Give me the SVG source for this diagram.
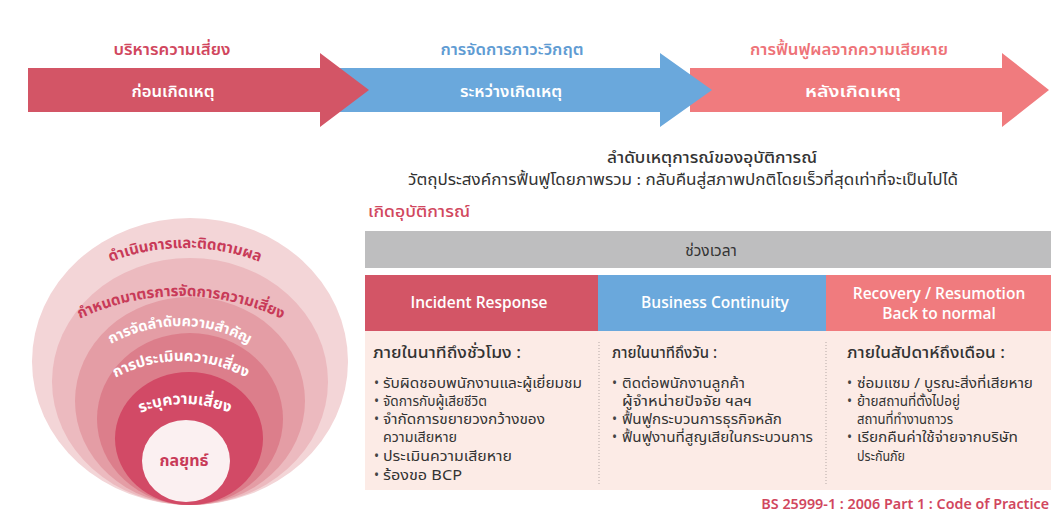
<svg xmlns="http://www.w3.org/2000/svg" width="1051" height="516" viewBox="0 0 1051 516">
<style>
text{font-family:"Noto Sans Thai","Noto Sans","Open Sans","DejaVu Sans",sans-serif;}
.ttl{font-size:15.5px;font-weight:600;text-anchor:middle;}
.inarrow{font-size:15.5px;font-weight:600;fill:#fff;text-anchor:middle;}
.hd{font-size:15.5px;font-weight:600;fill:#fff;text-anchor:middle;font-family:"Open Sans","Liberation Sans",sans-serif;}
.colh{font-size:16.5px;fill:#333;font-weight:500;}
.li{font-size:13.5px;fill:#333;}
.bu{font-size:13.5px;fill:#444;}
.arc{font-weight:700;}
</style>
<rect width="1051" height="516" fill="#fff"/>
<g id="phase-arrows">
  <g id="arrow-after">
    <polygon points="690,68 1002,68 1002,53 1049,90 1002,127 1002,112 690,112" fill="#F07B7E"/>
    <text class="ttl" x="849" y="55" fill="#EE7378" textLength="198" lengthAdjust="spacingAndGlyphs">การฟื้นฟูผลจากความเสียหาย</text>
    <text class="inarrow" x="853" y="97" textLength="96" lengthAdjust="spacingAndGlyphs">หลังเกิดเหตุ</text>
  </g>
  <g id="arrow-during">
    <polygon points="340,68 660,68 660,53 712,90 660,127 660,112 340,112" fill="#6AA8DC"/>
    <text class="ttl" x="512" y="55" fill="#5F9CD3" textLength="143" lengthAdjust="spacingAndGlyphs">การจัดการภาวะวิกฤต</text>
    <text class="inarrow" x="511" y="97" textLength="102" lengthAdjust="spacingAndGlyphs">ระหว่างเกิดเหตุ</text>
  </g>
  <g id="arrow-before">
    <polygon points="28,68 320,68 320,53 369,90 320,127 320,112 28,112" fill="#D35566"/>
    <text class="ttl" x="172" y="55" fill="#D1475E" textLength="117" lengthAdjust="spacingAndGlyphs">บริหารความเสี่ยง</text>
    <text class="inarrow" x="173" y="97" textLength="83" lengthAdjust="spacingAndGlyphs">ก่อนเกิดเหตุ</text>
  </g>
</g>
<g id="caption">
  <text x="712" y="163" font-size="16" font-weight="500" fill="#333" text-anchor="middle" textLength="210" lengthAdjust="spacingAndGlyphs">ลำดับเหตุการณ์ของอุบัติการณ์</text>
  <text x="683" y="185" font-size="15" fill="#333" text-anchor="middle" textLength="550" lengthAdjust="spacingAndGlyphs">วัตถุประสงค์การฟื้นฟูโดยภาพรวม : กลับคืนสู่สภาพปกติโดยเร็วที่สุดเท่าที่จะเป็นไปได้</text>
</g>
<g id="risk-circles">
  <defs>
    <path id="a1" d="M -21,454 A 206 206 0 0 1 391,454"/>
    <path id="a2" d="M -53,530 A 234 234 0 0 1 415,530"/>
    <path id="a3" d="M 40,466 A 140 140 0 0 1 320,466"/>
    <path id="a4" d="M 45,497 A 136 136 0 0 1 317,497"/>
    <path id="a5" d="M 70,519 A 115 115 0 0 1 300,519"/>
  </defs>
  <ellipse cx="190" cy="361.5" rx="158" ry="143.5" fill="#F3D5D7"/>
  <ellipse cx="190" cy="381.5" rx="138" ry="123.5" fill="#ECBABF"/>
  <ellipse cx="190" cy="401" rx="115" ry="104" fill="#E49DA5"/>
  <ellipse cx="190" cy="419" rx="93" ry="86" fill="#DC7E8B"/>
  <ellipse cx="189" cy="438.5" rx="74" ry="66.5" fill="#D24A66"/>
  <ellipse cx="186" cy="461" rx="44" ry="41" fill="#FBF0F1"/>
  <text class="arc" font-size="15" fill="#C83A58"><textPath href="#a1" startOffset="50%" text-anchor="middle">ดำเนินการและติดตามผล</textPath></text>
  <text class="arc" font-size="15" fill="#C83A58"><textPath href="#a2" startOffset="50%" text-anchor="middle">กำหนดมาตรการจัดการความเสี่ยง</textPath></text>
  <text class="arc" font-size="14.5" fill="#fff"><textPath href="#a3" startOffset="50%" text-anchor="middle">การจัดลำดับความสำคัญ</textPath></text>
  <text class="arc" font-size="15" fill="#fff"><textPath href="#a4" startOffset="50%" text-anchor="middle">การประเมินความเสี่ยง</textPath></text>
  <text class="arc" font-size="15.5" fill="#fff"><textPath href="#a5" startOffset="50%" text-anchor="middle">ระบุความเสี่ยง</textPath></text>
  <text x="184" y="466" font-size="16" font-weight="700" fill="#C83A58" text-anchor="middle">กลยุทธ์</text>
</g>
<g id="incident-table">
  <text x="368" y="217" font-size="16" font-weight="500" fill="#D1475E" textLength="102" lengthAdjust="spacingAndGlyphs">เกิดอุบัติการณ์</text>
  <rect x="365" y="231" width="686" height="37" fill="#BEBEBF"/>
  <text x="711" y="256" font-size="15.5" fill="#333" text-anchor="middle">ช่วงเวลา</text>
  <rect x="365" y="275" width="233" height="56" fill="#D35566"/>
  <rect x="598" y="275" width="228" height="56" fill="#6AA8DC"/>
  <rect x="826" y="275" width="225" height="56" fill="#F07B7E"/>
  <text class="hd" x="479" y="308">Incident Response</text>
  <text class="hd" x="715" y="308">Business Continuity</text>
  <text class="hd" x="939" y="299">Recovery / Resumotion</text>
  <text class="hd" x="939" y="319">Back to normal</text>
  <rect x="365" y="331" width="686" height="159" fill="#FCEBE6"/>
  <line x1="599" y1="342" x2="599" y2="484" stroke="#B5A9A6" stroke-width="1" stroke-dasharray="1 2"/>
  <line x1="826" y1="342" x2="826" y2="484" stroke="#B5A9A6" stroke-width="1" stroke-dasharray="1 2"/>
  <g id="col1">
    <text class="colh" x="373" y="358" textLength="148" lengthAdjust="spacingAndGlyphs">ภายในนาทีถึงชั่วโมง :</text>
    <text class="bu" x="374" y="388">•</text>
    <text class="li" x="383" y="388" textLength="199" lengthAdjust="spacingAndGlyphs">รับผิดชอบพนักงานและผู้เยี่ยมชม</text>
    <text class="bu" x="374" y="406">•</text>
    <text class="li" x="383" y="406" textLength="104" lengthAdjust="spacingAndGlyphs">จัดการกับผู้เสียชีวิต</text>
    <text class="bu" x="374" y="424">•</text>
    <text class="li" x="383" y="424" textLength="162" lengthAdjust="spacingAndGlyphs">จำกัดการขยายวงกว้างของ</text>
    <text class="li" x="383" y="442" textLength="74" lengthAdjust="spacingAndGlyphs">ความเสียหาย</text>
    <text class="bu" x="374" y="461">•</text>
    <text class="li" x="383" y="461" textLength="129" lengthAdjust="spacingAndGlyphs">ประเมินความเสียหาย</text>
    <text class="bu" x="374" y="480">•</text>
    <text class="li" x="383" y="480" textLength="79" lengthAdjust="spacingAndGlyphs">ร้องขอ BCP</text>
  </g>
  <g id="col2">
    <text class="colh" x="612" y="358" textLength="105" lengthAdjust="spacingAndGlyphs">ภายในนาทีถึงวัน :</text>
    <text class="bu" x="612" y="388">•</text>
    <text class="li" x="622" y="388" textLength="123" lengthAdjust="spacingAndGlyphs">ติดต่อพนักงานลูกค้า</text>
    <text class="li" x="622" y="406" textLength="130" lengthAdjust="spacingAndGlyphs">ผู้จำหน่ายปัจจัย ฯลฯ</text>
    <text class="bu" x="612" y="424">•</text>
    <text class="li" x="622" y="424" textLength="160" lengthAdjust="spacingAndGlyphs">ฟื้นฟูกระบวนการธุรกิจหลัก</text>
    <text class="bu" x="612" y="442">•</text>
    <text class="li" x="622" y="442" textLength="191" lengthAdjust="spacingAndGlyphs">ฟื้นฟูงานที่สูญเสียในกระบวนการ</text>
  </g>
  <g id="col3">
    <text class="colh" x="847" y="358" textLength="158" lengthAdjust="spacingAndGlyphs">ภายในสัปดาห์ถึงเดือน :</text>
    <text class="bu" x="847" y="388">•</text>
    <text class="li" x="857" y="388" textLength="176" lengthAdjust="spacingAndGlyphs">ซ่อมแซม / บูรณะสิ่งที่เสียหาย</text>
    <text class="bu" x="847" y="406">•</text>
    <text class="li" x="857" y="406" textLength="103" lengthAdjust="spacingAndGlyphs">ย้ายสถานที่ตั้งไปอยู่</text>
    <text class="li" x="857" y="424" textLength="96" lengthAdjust="spacingAndGlyphs">สถานที่ทำงานถาวร</text>
    <text class="bu" x="847" y="442">•</text>
    <text class="li" x="857" y="442" textLength="161" lengthAdjust="spacingAndGlyphs">เรียกคืนค่าใช้จ่ายจากบริษัท</text>
    <text class="li" x="857" y="461" textLength="48" lengthAdjust="spacingAndGlyphs">ประกันภัย</text>
  </g>
  <text x="1049" y="509" font-size="14.3" font-weight="600" fill="#D1475E" text-anchor="end" font-family="Open Sans, Liberation Sans, sans-serif">BS 25999-1 : 2006 Part 1 : Code of Practice</text>
</g>
</svg>
